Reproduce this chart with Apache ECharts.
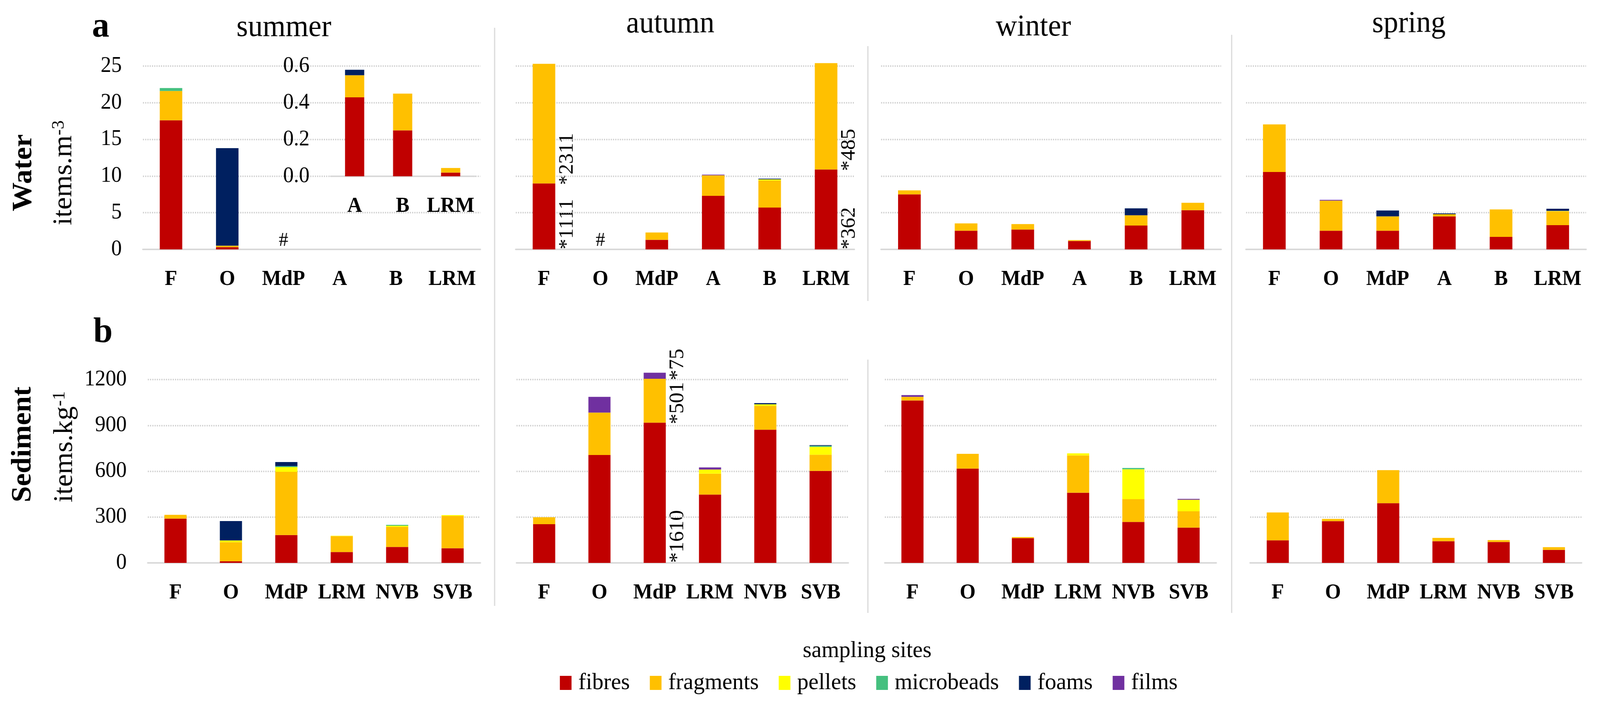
<!DOCTYPE html>
<html><head><meta charset="utf-8">
<script src="https://cdn.jsdelivr.net/npm/echarts@6/dist/echarts.min.js"></script>
<style>html,body{margin:0;padding:0;background:#fff;overflow:hidden}#c{width:4244px;height:1801px;transform-origin:0 0}</style>
</head><body><div id="c"></div>
<script>
// ---------- categories & labels ----------
const waterSites = ['F', 'O', 'MdP', 'A', 'B', 'LRM'];
const insetSites = ['A', 'B', 'LRM'];
const sedimentSites = ['F', 'O', 'MdP', 'LRM', 'NVB', 'SVB'];
const seasons = ['summer', 'autumn', 'winter', 'spring'];
const types = ['fibres', 'fragments', 'pellets', 'microbeads', 'foams', 'films'];
const typeColors = ['#C00000', '#FFC000', '#FFFF00', '#45C07F', '#002060', '#7030A0'];
const waterTicks = [0, 25, 5];        // min, max, interval
const insetTicks = [0, 0.6, 0.2];
const sedimentTicks = [0, 1200, 300];

// ---------- data (rows: fibres, fragments, pellets, microbeads, foams, films) ----------
// Water, items.m-3
const waterSummer = [
  [17.6, 0.3, null, null, null, null],
  [4.0, 0.2, null, null, null, null],
  [0, 0, null, null, null, null],
  [0.4, 0, null, null, null, null],
  [0, 13.3, null, null, null, null],
  [0, 0, null, null, null, null]
];
const waterSummerInset = [   // A, B, LRM
  [0.43, 0.25, 0.02],
  [0.12, 0.20, 0.025],
  [0, 0, 0],
  [0, 0, 0],
  [0.03, 0, 0],
  [0, 0, 0]
];
const waterAutumn = [
  [9.0, null, 1.3, 7.3, 5.7, 10.9],
  [16.3, null, 1.0, 2.8, 3.7, 14.5],
  [0, null, 0, 0, 0.15, 0],
  [0, null, 0, 0, 0, 0],
  [0, null, 0, 0, 0.1, 0],
  [0, null, 0, 0.1, 0, 0]
];
const waterWinter = [
  [7.5, 2.55, 2.7, 1.15, 3.25, 5.35],
  [0.55, 1.0, 0.75, 0.12, 1.4, 1.0],
  [0, 0, 0, 0, 0, 0],
  [0, 0, 0, 0, 0, 0],
  [0, 0, 0, 0, 0.95, 0],
  [0, 0, 0, 0, 0, 0]
];
const waterSpring = [
  [10.55, 2.55, 2.55, 4.5, 1.7, 3.3],
  [6.5, 4.1, 1.95, 0.3, 3.75, 1.9],
  [0, 0, 0, 0, 0, 0.05],
  [0, 0, 0, 0, 0, 0],
  [0, 0, 0.8, 0.1, 0, 0.3],
  [0, 0.1, 0, 0, 0, 0]
];
// Sediment, items.kg-1
const sedimentSummer = [
  [290, 10, 182, 71, 104, 96],
  [25, 125, 414, 104, 132, 211],
  [0, 12, 31, 3, 7, 6],
  [0, 0, 6, 0, 6, 0],
  [0, 127, 27, 0, 0, 0],
  [0, 0, 0, 0, 0, 0]
];
const sedimentAutumn = [
  [253, 706, 918, 447, 872, 602],
  [46, 278, 287, 137, 156, 106],
  [0, 0, 0, 27, 10, 51],
  [0, 0, 0, 0, 0, 7],
  [0, 0, 0, 0, 8, 5],
  [0, 103, 40, 14, 0, 0]
];
const sedimentWinter = [
  [1063, 617, 162, 459, 268, 231],
  [24, 97, 7, 244, 149, 107],
  [0, 0, 0, 14, 196, 75],
  [0, 0, 0, 0, 8, 0],
  [0, 0, 0, 0, 0, 0],
  [11, 0, 0, 0, 0, 6]
];
const sedimentSpring = [
  [148, 273, 391, 142, 137, 85],
  [182, 15, 216, 22, 12, 18],
  [0, 0, 0, 0, 0, 0],
  [0, 0, 0, 0, 0, 0],
  [0, 0, 0, 0, 0, 0],
  [0, 0, 0, 0, 0, 0]
];
// broken-bar notes: [panel index, site, number of stacked types below the start, text]
const breakNotes = [
  [2, 'F', 0, '*1111'], [2, 'F', 1, '*2311'],
  [2, 'LRM', 0, '*362'], [2, 'LRM', 1, '*485'],
  [6, 'MdP', 0, '*1610'], [6, 'MdP', 1, '*501'], [6, 'MdP', 2, '*75']
];
// no sample marks: [panel index, site]
const noDataMarks = [[0, 'MdP'], [2, 'O']];

// ---------- fit the 4244x1801 drawing into the actual window ----------
const W = 4244, H = 1801;
const box = document.getElementById('c');
const sx = (window.innerWidth || W) / W, sy = (window.innerHeight || H) / H;
box.style.transform = 'scale(' + sx + ',' + sy + ')';

// ---------- layout ----------
const FONT = "'Liberation Serif', 'Times New Roman', serif";
const panels = [
  {data: waterSummer, cats: waterSites, ticks: waterTicks, grid: {left: 379, top: 169, width: 895, height: 469}, labels: true},
  {data: waterSummerInset, cats: insetSites, ticks: insetTicks, grid: {left: 877, top: 169, width: 382, height: 282}, labels: true, inset: true},
  {data: waterAutumn, cats: waterSites, ticks: waterTicks, grid: {left: 1368, top: 169, width: 898, height: 469}},
  {data: waterWinter, cats: waterSites, ticks: waterTicks, grid: {left: 2337, top: 169, width: 902, height: 469}},
  {data: waterSpring, cats: waterSites, ticks: waterTicks, grid: {left: 3305, top: 169, width: 902, height: 469}},
  {data: sedimentSummer, cats: sedimentSites, ticks: sedimentTicks, grid: {left: 392, top: 971, width: 882, height: 469}, labels: true},
  {data: sedimentAutumn, cats: sedimentSites, ticks: sedimentTicks, grid: {left: 1370, top: 971, width: 880, height: 469}},
  {data: sedimentWinter, cats: sedimentSites, ticks: sedimentTicks, grid: {left: 2347, top: 971, width: 879, height: 469}},
  {data: sedimentSpring, cats: sedimentSites, ticks: sedimentTicks, grid: {left: 3316, top: 971, width: 879, height: 469}}
];

const grid = [], xAxis = [], yAxis = [], series = [];
panels.forEach((p, i) => {
  grid.push(Object.assign({containLabel: false}, p.grid));
  xAxis.push({
    type: 'category', gridIndex: i, data: p.cats,
    axisLine: {show: true, lineStyle: {color: '#D9D9D9', width: 4}},
    axisTick: {show: false},
    axisLabel: {interval: 0, margin: 50, fontFamily: FONT, fontSize: 54, fontWeight: 'bold', color: '#000'}
  });
  yAxis.push({
    type: 'value', gridIndex: i, min: p.ticks[0], max: p.ticks[1], interval: p.ticks[2],
    axisLine: {show: false}, axisTick: {show: false},
    axisLabel: {show: !!p.labels, margin: 56, fontFamily: FONT, fontSize: 56, color: '#000',
      formatter: p.inset ? (v => v.toFixed(1)) : (v => String(v))},
    splitLine: {show: !p.inset, lineStyle: {color: '#D2D2D2', width: 4, type: [3, 3]}}
  });
  types.forEach((t, k) => {
    series.push({
      type: 'bar', name: t, xAxisIndex: i, yAxisIndex: i, stack: 'panel' + i,
      data: p.data[k], barCategoryGap: '60%', clip: false,
      itemStyle: {color: typeColors[k]},
      emphasis: {disabled: true}
    });
  });
});

const sep = (x, y1, y2) => ({type: 'line', shape: {x1: x, y1: y1, x2: x, y2: y2}, style: {stroke: '#D9D9D9', lineWidth: 3}, silent: true});
const txt = (x, y, text, font, rot) => ({type: 'text', x: x, y: y, rotation: rot || 0,
  style: {text: text, font: font + ' ' + FONT, fill: '#000', align: 'center', verticalAlign: 'middle'}});
const staticGraphics = [
  sep(1312, 71, 1550), sep(2302, 118, 770), sep(2302, 920, 1568), sep(3267, 89, 1568),
  txt(267, 70, 'a', 'bold 92px'),
  txt(273, 851, 'b', 'bold 92px'),
  txt(753, 72, seasons[0], '78px'),
  txt(1778, 63, seasons[1], '78px'),
  txt(2741, 71, seasons[2], '78px'),
  txt(3737, 62, seasons[3], '78px'),
  txt(64, 442, 'Water', 'bold 74px', Math.PI / 2),
  {type: 'text', x: 170, y: 442, rotation: Math.PI / 2, style: {text: '{a|items.m}{b|-3}', fill: '#000', align: 'center', verticalAlign: 'middle',
    rich: {a: {fontFamily: FONT, fontSize: 72, fill: '#000'}, b: {fontFamily: FONT, fontSize: 46, fill: '#000', verticalAlign: 'top'}}}},
  txt(62, 1137, 'Sediment', 'bold 74px', Math.PI / 2),
  {type: 'text', x: 172, y: 1143, rotation: Math.PI / 2, style: {text: '{a|items.kg}{b|-1}', fill: '#000', align: 'center', verticalAlign: 'middle',
    rich: {a: {fontFamily: FONT, fontSize: 72, fill: '#000'}, b: {fontFamily: FONT, fontSize: 46, fill: '#000', verticalAlign: 'top'}}}},
  txt(2300, 1665, 'sampling sites', '60px')
];

const option = {
  animation: false,
  backgroundColor: '#fff',
  grid, xAxis, yAxis, series,
  legend: {
    data: types, left: 1480, top: 1712, icon: 'rect', itemWidth: 31, itemHeight: 36, itemGap: 53,
    selectedMode: false,
    textStyle: {fontFamily: FONT, fontSize: 60, color: '#000', padding: [0, 0, 0, 13]}
  },
  graphic: staticGraphics
};

const chart = echarts.init(box, null, {renderer: 'canvas', width: W, height: H});
chart.setOption(option);

// annotations placed through the axes' own scales
const extra = [];
breakNotes.forEach(([gi, cat, level, text]) => {
  const p = panels[gi];
  const ci = p.cats.indexOf(cat);
  let v = 0;
  for (let t = 0; t < level; t++) v += p.data[t][ci] || 0;
  const pt = chart.convertToPixel({xAxisIndex: gi, yAxisIndex: gi}, [ci, v]);
  const a0 = chart.convertToPixel({xAxisIndex: gi, yAxisIndex: gi}, [0, 0]);
  const a1 = chart.convertToPixel({xAxisIndex: gi, yAxisIndex: gi}, [1, 0]);
  const half = (a1[0] - a0[0]) * 0.2;
  extra.push({type: 'text', x: pt[0] + half + 5, y: pt[1] + (level > 0 ? 4 : 0), rotation: Math.PI / 2,
    style: {text: text, font: '54px ' + FONT, fill: '#000', align: 'left', verticalAlign: 'top'}});
});
noDataMarks.forEach(([gi, cat]) => {
  const p = panels[gi];
  const ci = p.cats.indexOf(cat);
  const pt = chart.convertToPixel({xAxisIndex: gi, yAxisIndex: gi}, [ci, 0]);
  extra.push({type: 'text', x: pt[0], y: pt[1] - 22,
    style: {text: '#', font: '50px ' + FONT, fill: '#000', align: 'center', verticalAlign: 'middle'}});
});
chart.setOption({graphic: staticGraphics.concat(extra)});
</script>
</body></html>
